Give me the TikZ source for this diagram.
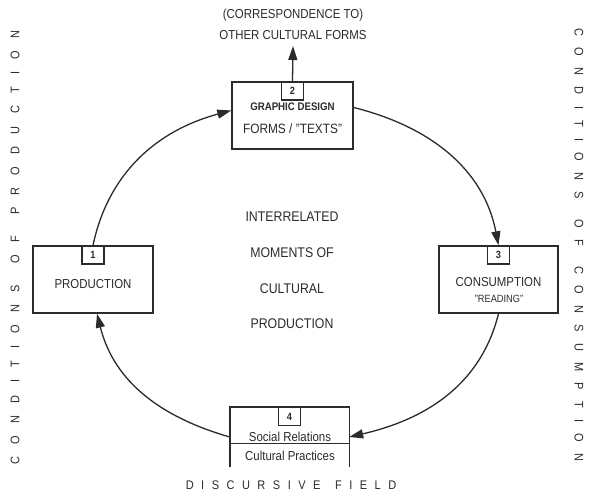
\documentclass[tikz,border=0pt]{standalone}
\usepackage{fontspec}
\setmainfont[FakeStretch=0.88]{Liberation Sans}
\usetikzlibrary{arrows.meta}
\definecolor{ink}{HTML}{2B2B2B}
\begin{document}
\begin{tikzpicture}[x=1pt,y=-1pt,
  box/.style={draw=ink, line width=1.4pt, minimum height=67pt, inner sep=0pt},
  numbox/.style={draw=ink, line width=1.2pt, minimum width=22pt, minimum height=18pt, inner sep=0pt, anchor=north, text=ink, font=\bfseries\fontsize{10.5}{12}\selectfont},
  lab/.style={text=ink, inner sep=0pt, font=\fontsize{13}{15}\selectfont},
  small/.style={text=ink, inner sep=0pt, font=\fontsize{10.5}{12}\selectfont},
  center/.style={text=ink, inner sep=0pt, font=\fontsize{14}{16}\selectfont},
  sidel/.style={text=ink, inner sep=0pt, font=\fontsize{12.5}{14}\selectfont\addfontfeatures{LetterSpace=98}},
  sider/.style={text=ink, inner sep=0pt, font=\fontsize{12.5}{14}\selectfont\addfontfeatures{LetterSpace=90}},
  bottom/.style={text=ink, inner sep=0pt, font=\fontsize{12.5}{14}\selectfont\addfontfeatures{LetterSpace=60}},
  arr/.style={draw=ink, line width=1.3pt, -{Triangle[length=14pt,width=9pt]}}
]
\useasboundingbox (0,0) rectangle (590,498);
\fill[white] (0,0) rectangle (590,498);

% boxes
\node[box, minimum width=120pt] (p1) at (93,279.5) {};
\node[box, minimum width=121pt] (p2) at (292.5,115.5) {};
\node[box, minimum width=119pt] (p3) at (498.5,279.5) {};
\node[minimum width=119pt, minimum height=60pt, inner sep=0pt] (p4) at (289.5,437) {};
\draw[draw=ink, line width=1.4pt] (p4.south west) -- (p4.north west) -- (p4.north east) -- (p4.south east);
\draw[draw=ink, line width=1.3pt] ([yshift=-37pt]p4.north west) -- ([yshift=-37pt]p4.north east);

% number boxes
\node[numbox] (n1) at (p1.north) {1};
\node[numbox] (n2) at (p2.north) {2};
\node[numbox] (n3) at (p3.north) {3};
\node[numbox] (n4) at (p4.north) {4};

% box texts
\node[lab] (t1) at (93,284) {PRODUCTION};
\node[text=ink, inner sep=0pt, font=\bfseries\fontsize{11}{13}\selectfont] (t2a) at (292.5,107) {GRAPHIC DESIGN};
\node[lab, font=\fontsize{13.5}{15}\selectfont] (t2b) at (292.5,129) {FORMS / "TEXTS"};
\node[lab] (t3a) at (498.5,282) {CONSUMPTION};
\node[small] (t3b) at (499,299) {"READING"};
\node[lab] (t4a) at (290,437) {Social Relations};
\node[lab] (t4b) at (290,456) {Cultural Practices};

% centre text
\node[center] (c1) at (292,217) {INTERRELATED};
\node[center] (c2) at (292,253) {MOMENTS OF};
\node[center] (c3) at (292,289) {CULTURAL};
\node[center] (c4) at (292,324) {PRODUCTION};

% top text and arrow
\node[lab] (o1) at (293,15) {(CORRESPONDENCE TO)};
\node[lab] (o2) at (293,35) {OTHER CULTURAL FORMS};
\coordinate (otip) at (293,46);
\draw[arr] (p2.north) -- (otip);

% cycle arrows
\draw[arr] (p1.north) to[out=78, in=195] ([yshift=5pt]p2.west);
\draw[arr] ([yshift=8pt]p2.east) to[out=-14, in=101] (p3.north);
\draw[arr] (p3.south) to[out=-104, in=13] (p4.east);
\draw[arr] (p4.west) to[out=164, in=-76] ([xshift=4pt]p1.south);

% side texts
\node[sidel, rotate=90] (s1) at (15,247.5) {CONDITIONS\hspace{6pt} OF\hspace{6pt} PRODUCTION};
\node[sider, rotate=-90] (s2) at (579,245) {CONDITIONS\hspace{6pt} OF\hspace{6pt} CONSUMPTION};
\node[bottom] (s3) at (291,485) {DISCURSIVE\hspace{4pt} FIELD};
\end{tikzpicture}
\end{document}
